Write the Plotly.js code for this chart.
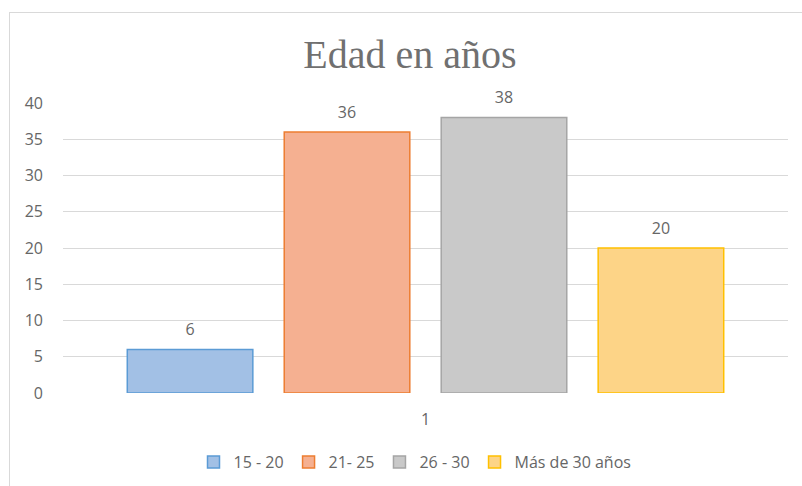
<!DOCTYPE html>
<html>
<head>
<meta charset="utf-8">
<script src="https://cdn.plot.ly/plotly-3.0.1.min.js"></script>
<style>
  html, body { margin: 0; padding: 0; background: #fff; }
  #wrap { position: relative; width: 802px; height: 486px; }
  #chart { width: 802px; height: 486px; }
  #frame { position: absolute; left: 9px; top: 12px; right: -2px; bottom: -2px;
           border-left: 1px solid #d9d9d9; border-top: 1px solid #d9d9d9; pointer-events: none; }
</style>
</head>
<body>
<div id="wrap">
  <div id="chart"></div>
  <div id="frame"></div>
</div>
<script>
const categories = ["1"];
const seriesNames = ["15 - 20", "21- 25", "26 - 30", "Más de 30 años"];
const seriesValues = [[6], [36], [38], [20]];
const fillColors = ["#a2c0e5", "#f5b091", "#c9c9c9", "#fdd487"];
const lineColors = ["#5b9bd5", "#ed7d31", "#a5a5a5", "#ffc000"];
const yTicks = [0, 5, 10, 15, 20, 25, 30, 35, 40];

const textFont = { family: "Open Sans, sans-serif", size: 16, color: "#666666" };

const traces = seriesNames.map((name, i) => ({
  type: "bar",
  name: name,
  x: categories,
  y: seriesValues[i],
  marker: { color: fillColors[i], line: { color: lineColors[i], width: 1.5 } },
  text: seriesValues[i].map(String),
  texttemplate: "%{text}<br><sup><sup> </sup></sup>",
  textposition: "outside",
  cliponaxis: false,
  textfont: textFont,
  hoverinfo: "skip"
}));

const layout = {
  width: 802,
  height: 486,
  paper_bgcolor: "#ffffff",
  plot_bgcolor: "#ffffff",
  margin: { l: 63, r: 14, t: 103, b: 93 },
  barmode: "group",
  bargap: 0.134,
  bargroupgap: 0.2,
  title: {
    text: "Edad en años",
    font: { family: "Liberation Serif, serif", size: 40, color: "#707070" },
    x: 410 / 802, xanchor: "center", xref: "container",
    y: 1 - 54 / 486, yanchor: "middle", yref: "container"
  },
  xaxis: {
    type: "category",
    showgrid: false,
    zeroline: false,
    showline: false,
    ticks: "",
    ticklabelstandoff: 15,
    tickfont: textFont
  },
  yaxis: {
    range: [0, 40],
    tickvals: yTicks,
    ticktext: yTicks.map(String),
    showgrid: true,
    gridcolor: "#d9d9d9",
    gridwidth: 1,
    zeroline: false,
    showline: false,
    ticks: "",
    ticklabelstandoff: 19,
    tickfont: textFont
  },
  showlegend: true,
  legend: {
    orientation: "h",
    x: 415 / 802, xanchor: "center", xref: "container",
    y: 1 - 462 / 486, yanchor: "middle", yref: "container",
    font: textFont,
    itemclick: false
  }
};

Plotly.newPlot("chart", traces, layout, { displayModeBar: false, staticPlot: true });
</script>
</body>
</html>
